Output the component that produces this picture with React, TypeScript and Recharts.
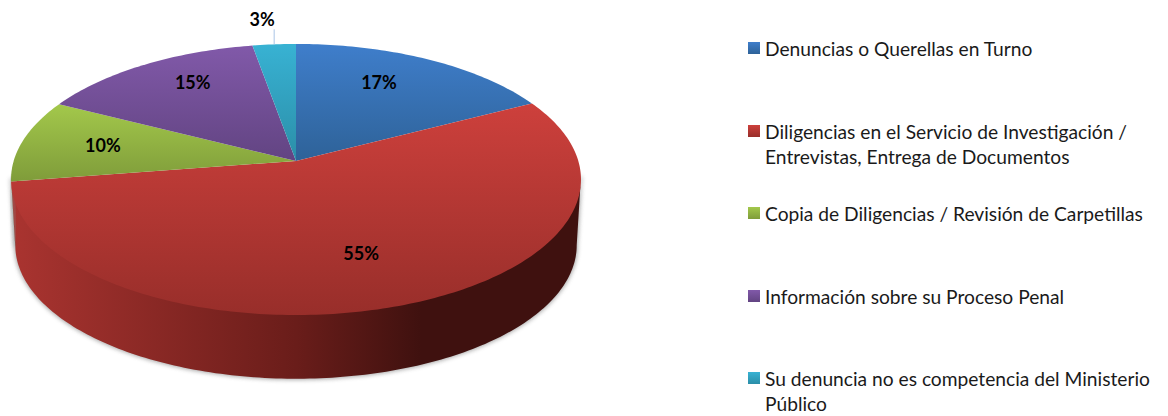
import { Legend, Pie, PieChart } from "recharts";

const categories = [
  "Denuncias o Querellas en Turno",
  "Diligencias en el Servicio de Investigación / Entrevistas, Entrega de Documentos",
  "Copia de Diligencias / Revisión de Carpetillas",
  "Información sobre su Proceso Penal",
  "Su denuncia no es competencia del Ministerio Público",
];
const shares = [17.4, 55.2, 9.9, 14.7, 2.8];
const topColors = ["#3f7ecb", "#cd403c", "#a3c84b", "#8159a9", "#38b2d3"];
const bottomColors = ["#2e6298", "#982e2a", "#7f9c3a", "#624482", "#2b8ea8"];
const sideColors = [
  ["#2e6298", "#1c3c60", "#12263c"],
  ["#aa3430", "#6a1d1a", "#3f110f"],
  ["#7f9c3a", "#566a27", "#364318"],
  ["#624482", "#3f2c54", "#281c36"],
  ["#2b8ea8", "#1b5a6a", "#113943"],
];
// hand nudges for the in-slice labels, the original's aren't on one radius
const labelNudgeX = [-12, -2, -1, 6, 0];
const labelNudgeY = [-5, -5, -1, -10, 0];

const data = categories.map((name, i) => ({
  name,
  value: shares[i],
  fill: `url(#top-${i})`,
  wallFill: `url(#wall-${i})`,
}));

// flat circle -> tilted disc with a little perspective
const PERSPECTIVE = -0.1365;
const SQUASH_X = 0.9906;
const SQUASH_Y = 0.4667;
const DEPTH = 66;
const BOTTOM_SCALE = 0.985;
// clockwise degrees from 12 o'clock where the disc's silhouette turns
const FRONT_FROM = 97.8;
const FRONT_TO = 262.2;

function project(cx: number, cy: number, r: number, deg: number, radial = 1) {
  const rad = (deg * Math.PI) / 180;
  const u = Math.sin(rad) * radial;
  const v = -Math.cos(rad) * radial;
  const d = 1 + PERSPECTIVE * v;
  return { x: cx + (r * SQUASH_X * u) / d, y: cy + (r * SQUASH_Y * v) / d };
}

function arcPoints(cx: number, cy: number, r: number, from: number, to: number) {
  const steps = Math.max(2, Math.ceil(to - from));
  const pts = [];
  for (let i = 0; i <= steps; i++) pts.push(project(cx, cy, r, from + ((to - from) * i) / steps));
  return pts;
}

const toPath = (pts: { x: number; y: number }[]) =>
  pts.map((p, i) => `${i === 0 ? "M" : "L"}${p.x.toFixed(2)},${p.y.toFixed(2)}`).join(" ") + " Z";

function TopSlice(props: any) {
  const { cx, cy, outerRadius, startAngle, endAngle, fill } = props;
  const pts = [{ x: cx, y: cy }, ...arcPoints(cx, cy, outerRadius, 90 - startAngle, 90 - endAngle)];
  return <path d={toPath(pts)} fill={fill} stroke="none" />;
}

function WallSlice(props: any) {
  const { cx, cy, outerRadius, startAngle, endAngle, wallFill } = props;
  const from = Math.max(90 - startAngle, FRONT_FROM);
  const to = Math.min(90 - endAngle, FRONT_TO);
  if (to <= from) return null;
  // upper edge tucked under the top face so the shadow can't show through the seam
  const upper = arcPoints(cx, cy - 3, outerRadius, from, to);
  const lower = arcPoints(cx, cy + DEPTH, outerRadius * BOTTOM_SCALE, from, to).reverse();
  const d = toPath([...upper, ...lower]);
  return (
    <g>
      <path d={d} fill="#8a8a8a" stroke="#8a8a8a" strokeWidth={2} filter="url(#wall-shadow)" opacity={0.75} />
      <path d={d} fill={wallFill} stroke="none" />
    </g>
  );
}

function SliceLabel(props: any) {
  const { cx, cy, outerRadius, midAngle, percent, index } = props;
  const deg = 90 - midAngle;
  const text = `${Math.round(percent * 100)}%`;
  const style = { fontFamily: "Lato", fontWeight: 700, fontSize: 18, fill: "#000" };
  if (percent < 0.05) {
    const edge = project(cx, cy, outerRadius, deg);
    return (
      <g>
        <line x1={edge.x} y1={edge.y} x2={edge.x} y2={edge.y - 15} stroke="#a9c4e6" strokeWidth={1} />
        <text x={edge.x - 12} y={edge.y - 25} textAnchor="middle" dominantBaseline="central" style={style}>
          {text}
        </text>
      </g>
    );
  }
  const p = project(cx, cy, outerRadius, deg, 0.7);
  return (
    <text
      x={p.x + labelNudgeX[index]}
      y={p.y + labelNudgeY[index]}
      textAnchor="middle"
      dominantBaseline="central"
      style={style}
    >
      {text}
    </text>
  );
}

function LegendList({ payload }: any) {
  const items = payload ?? [];
  return (
    <div style={{ fontFamily: "Lato", fontSize: 19.2, lineHeight: "25px", color: "#1a1a1a" }}>
      {items.map((item: any, i: number) => (
        <div key={item.value} style={{ position: "relative", height: i < items.length - 1 ? 82.5 : 50, paddingLeft: 17 }}>
          <div
            style={{
              position: "absolute",
              left: 0,
              top: 6,
              width: 12,
              height: 12,
              background: `linear-gradient(${topColors[i]}, ${bottomColors[i]})`,
            }}
          />
          {item.value}
        </div>
      ))}
    </div>
  );
}

export default function App() {
  return (
    <div style={{ position: "absolute", left: 0, top: 0 }}>
      <PieChart width={1168} height={416} margin={{ top: 0, right: 0, bottom: 0, left: 0 }}>
        <defs>
          {categories.map((_, i) => (
            <linearGradient key={i} id={`top-${i}`} x1="0" y1="0" x2="0" y2="1">
              <stop offset="0%" stopColor={topColors[i]} />
              <stop offset="100%" stopColor={bottomColors[i]} />
            </linearGradient>
          ))}
          {categories.map((_, i) => (
            <linearGradient key={i} id={`wall-${i}`} x1="0" y1="0" x2="1" y2="0">
              <stop offset="0%" stopColor={sideColors[i][0]} />
              <stop offset="50%" stopColor={sideColors[i][1]} />
              <stop offset="72%" stopColor={sideColors[i][2]} />
              <stop offset="100%" stopColor={sideColors[i][2]} />
            </linearGradient>
          ))}
          <filter id="wall-shadow" x="-5%" y="-5%" width="110%" height="110%">
            <feGaussianBlur stdDeviation="2" />
          </filter>
        </defs>
        <Pie
          data={data}
          dataKey="value"
          nameKey="name"
          cx={296}
          cy={161}
          outerRadius={285}
          startAngle={90}
          endAngle={-270}
          legendType="none"
          shape={WallSlice}
          label={false}
          labelLine={false}
          isAnimationActive={false}
        />
        <Pie
          data={data}
          dataKey="value"
          nameKey="name"
          cx={296}
          cy={161}
          outerRadius={285}
          startAngle={90}
          endAngle={-270}
          shape={TopSlice}
          label={SliceLabel}
          labelLine={false}
          isAnimationActive={false}
        />
        <Legend
          layout="vertical"
          align="right"
          verticalAlign="top"
          itemSorter={null}
          content={LegendList}
          wrapperStyle={{ left: 748, top: 36, width: 410 }}
        />
      </PieChart>
    </div>
  );
}
